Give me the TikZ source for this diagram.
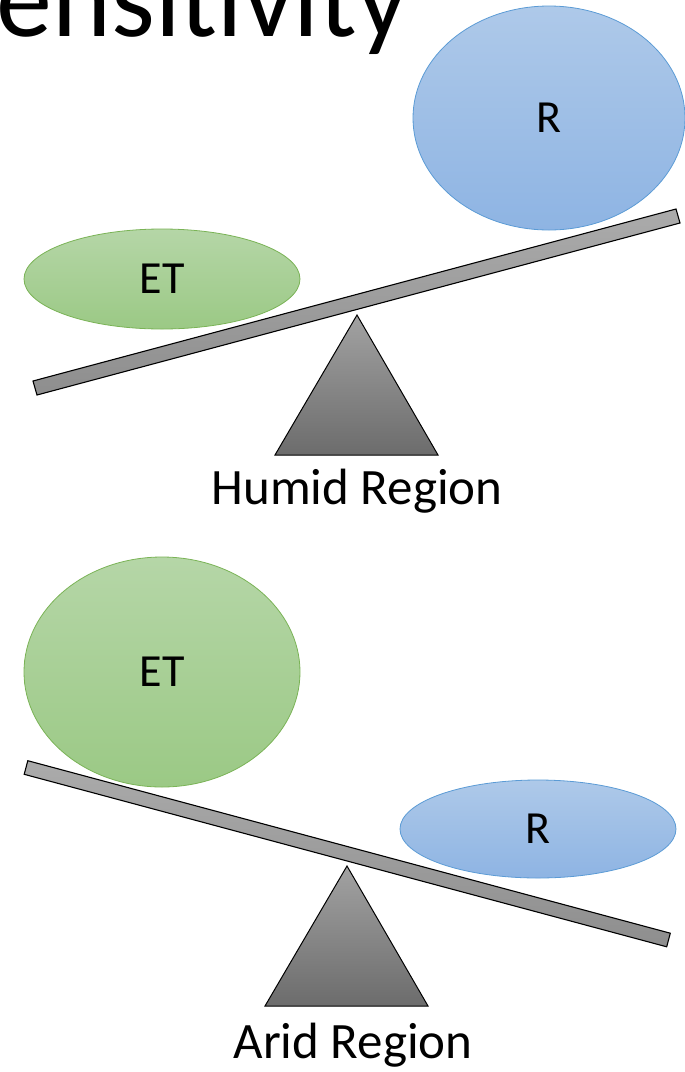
\documentclass[tikz,border=0pt]{standalone}
\usepackage{fontspec}
\setmainfont{Carlito}
\usetikzlibrary{shapes.geometric}
\definecolor{etTop}{HTML}{B5D6A7}
\definecolor{etBot}{HTML}{9BC985}
\definecolor{etLine}{HTML}{7AB356}
\definecolor{rTop}{HTML}{AEC9E9}
\definecolor{rBot}{HTML}{8EB4E3}
\definecolor{rLine}{HTML}{5B9BD5}
\definecolor{beamA}{HTML}{ABABAB}
\definecolor{beamB}{HTML}{8E8E8E}
\definecolor{pivTop}{HTML}{A2A2A2}
\definecolor{pivBot}{HTML}{6C6C6C}
\tikzset{
  etblob/.style={ellipse, draw=etLine, line width=0.8pt, top color=etTop, bottom color=etBot, inner sep=0pt},
  rblob/.style={ellipse, draw=rLine, line width=0.8pt, top color=rTop, bottom color=rBot, inner sep=0pt},
  beam/.style={draw=black, line width=1.1pt, top color=beamA, bottom color=beamB, line join=miter},
  pivot/.style={draw=black, line width=1pt, top color=pivTop, bottom color=pivBot, line join=miter},
  lbl/.style={font=\fontsize{46}{50}\selectfont, inner sep=0pt},
  caption/.style={font=\fontsize{51}{56}\selectfont, inner sep=0pt, anchor=base},
}
\begin{document}
\begin{tikzpicture}[x=1pt,y=-1pt]
\useasboundingbox (0,0) rectangle (685,1072);
% heading, running off the top and left edges
\node[font=\fontsize{112}{120}\selectfont, inner sep=0pt, anchor=base east] (title) at (408,36) {ensitivity};

% humid balance
\node[etblob, minimum width=276pt, minimum height=100pt] (et1) at (162,279) {};
\node[lbl] (et1txt) at (et1.center) {ET};
\node[rblob, minimum width=272pt, minimum height=224pt] (r1) at (549,118) {};
\node[lbl] (r1txt) at (r1.center) {R};
\path[beam] (33,381) -- (37,395) -- (680,223) -- (676,209) -- cycle;
\coordinate (p1) at (357,315);
\path[pivot] (p1) -- (438,455) -- (275,455) -- cycle;
\node[caption] (humid) at (357,504) {Humid Region};

% arid balance
\node[etblob, minimum width=276pt, minimum height=230pt] (et2) at (162,672) {};
\node[lbl] (et2txt) at (et2.center) {ET};
\node[rblob, minimum width=276pt, minimum height=98pt] (r2) at (538,829) {};
\node[lbl] (r2txt) at (r2.center) {R};
\path[beam] (27.8,760.7) -- (24.2,774.3) -- (666.7,946.8) -- (670.3,933.2) -- cycle;
\coordinate (p2) at (347,866);
\path[pivot] (p2) -- (428,1006) -- (265,1006) -- cycle;
\node[caption] (arid) at (353,1058) {Arid Region};
\end{tikzpicture}
\end{document}
